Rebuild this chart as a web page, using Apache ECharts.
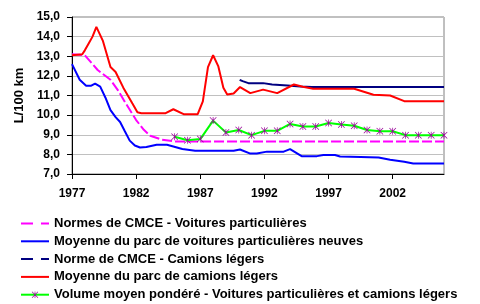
<!DOCTYPE html>
<html lang="fr">
<head>
<meta charset="UTF-8">
<title>Consommation de carburant</title>
<style>
  html, body { margin: 0; padding: 0; background: #fff; }
  #chart { width: 480px; height: 304px; }
</style>
</head>
<body>
<div id="chart"></div>
<script src="https://cdn.jsdelivr.net/npm/echarts@6/dist/echarts.min.js"></script>
<script>
// valeurs : [année, L/100 km]
var normesVoitures = [
  [1977, 13.1], [1978, 13.05], [1979, 12.3], [1980, 11.8], [1980.6, 11.25],
  [1981.1, 10.7], [1982, 9.75], [1982.6, 9.25], [1983.1, 8.95], [1984, 8.75],
  [1985, 8.66], [2006, 8.66]
];
var moyenneVoitures = [
  [1977, 12.6], [1977.6, 11.8], [1978.1, 11.5], [1978.5, 11.5], [1978.8, 11.6],
  [1979.2, 11.45], [1979.6, 10.9], [1980, 10.25], [1980.4, 9.9], [1980.75, 9.65],
  [1981.1, 9.2], [1981.5, 8.7], [1981.9, 8.45], [1982.3, 8.35], [1982.8, 8.38],
  [1983.6, 8.49], [1984.4, 8.49], [1984.9, 8.4], [1985.6, 8.27], [1986.6, 8.18],
  [1989.6, 8.18], [1990.1, 8.25], [1990.9, 8.04], [1991.4, 8.04], [1992.2, 8.14],
  [1993.5, 8.14], [1994, 8.27], [1994.9, 7.91], [1996.1, 7.91], [1996.6, 7.97],
  [1997.5, 7.97], [1997.9, 7.89], [1999.5, 7.87], [2000.9, 7.84], [2001.8, 7.73],
  [2002.9, 7.62], [2003.6, 7.53], [2006, 7.53]
];
var normeCamions = [
  [1990.07, 11.8], [1990.3, 11.73], [1990.75, 11.63], [1991.9, 11.63],
  [1992.6, 11.56], [1993.8, 11.51], [1994.8, 11.46], [1995.7, 11.43], [2006, 11.43]
];
var moyenneCamions = [
  [1977, 13.05], [1977.8, 13.1], [1978, 13.3], [1978.3, 13.65], [1978.6, 14.0],
  [1978.9, 14.5], [1979.4, 13.8], [1980, 12.45], [1980.4, 12.2], [1981, 11.4],
  [1981.7, 10.6], [1982.1, 10.15], [1982.4, 10.1], [1984.3, 10.1], [1984.9, 10.3],
  [1985.7, 10.05], [1986.8, 10.05], [1987.2, 10.7], [1987.6, 12.45], [1988, 13.05],
  [1988.4, 12.5], [1988.8, 11.4], [1989.1, 11.05], [1989.6, 11.1], [1990.1, 11.43],
  [1990.9, 11.12], [1991.9, 11.3], [1993, 11.12], [1994.3, 11.56], [1995, 11.45],
  [1995.8, 11.34], [1999, 11.34], [2000.5, 11.04], [2001.8, 11.0], [2002.9, 10.71],
  [2006, 10.71]
];
var anneesPondere = [1985, 1986, 1987, 1988, 1989, 1990, 1991, 1992, 1993, 1994, 1995,
  1996, 1997, 1998, 1999, 2000, 2001, 2002, 2003, 2004, 2005, 2006];
var volumePondere = [8.9, 8.72, 8.78, 9.72, 9.12, 9.24, 8.98, 9.2, 9.2, 9.55, 9.42,
  9.42, 9.6, 9.52, 9.46, 9.24, 9.18, 9.18, 8.98, 8.98, 8.98, 8.98];
var anneesEtiquettes = [1977, 1982, 1987, 1992, 1997, 2002];

var noms = [
  'Normes de CMCE - Voitures particulières',
  'Moyenne du parc de voitures particulières neuves',
  'Norme de CMCE - Camions légers',
  'Moyenne du parc de camions légers',
  'Volume moyen pondéré - Voitures particulières et camions légers'
];

var police = "'Liberation Sans', Arial, sans-serif";
// astérisque (marqueur Excel)
var asterisque = 'path://M4.5,0h1v10h-1z M0.7,0L10,9.3L9.3,10L0,0.7z M9.3,0L10,0.7L0.7,10L0,9.3z';
var sansMarque = { color: 'rgba(0,0,0,0)', borderWidth: 0 };

var chart = echarts.init(document.getElementById('chart'));
chart.setOption({
  animation: false,
  textStyle: { fontFamily: police },
  grid: {
    left: 72, right: 36, top: 17, bottom: 130,
    show: true, borderColor: '#808080', borderWidth: 1
  },
  legend: {
    orient: 'vertical',
    left: 20, top: 217,
    padding: 0,
    itemWidth: 28, itemHeight: 8, itemGap: 4.8,
    selectedMode: false,
    textStyle: { fontFamily: police, fontWeight: 'bold', fontSize: 13, color: '#000' },
    data: [
      { name: noms[0], itemStyle: sansMarque, lineStyle: { type: [12, 8] } },
      { name: noms[1], itemStyle: sansMarque },
      { name: noms[2], itemStyle: sansMarque, lineStyle: { type: [12, 8] } },
      { name: noms[3], itemStyle: sansMarque },
      { name: noms[4] }
    ]
  },
  xAxis: {
    type: 'value',
    min: 1977, max: 2006,
    splitLine: { show: false },
    axisLine: { lineStyle: { color: '#000', width: 1 } },
    axisTick: { show: true, length: 5, customValues: anneesEtiquettes, lineStyle: { color: '#000' } },
    axisLabel: {
      customValues: anneesEtiquettes,
      margin: 14,
      fontFamily: police, fontWeight: 'bold', fontSize: 12, color: '#000',
      formatter: function (v) { return String(v); }
    }
  },
  yAxis: {
    type: 'value',
    min: 7, max: 15, interval: 1,
    name: 'L/100 km',
    nameLocation: 'middle',
    nameGap: 40,
    nameTextStyle: { fontFamily: police, fontWeight: 'bold', fontSize: 13, color: '#000' },
    axisLine: { show: true, lineStyle: { color: '#000', width: 1 } },
    axisTick: { show: true, length: 5, lineStyle: { color: '#000' } },
    splitLine: { lineStyle: { color: '#c0c0c0', width: 1 } },
    axisLabel: {
      margin: 12,
      fontFamily: police, fontWeight: 'bold', fontSize: 12, color: '#000',
      formatter: function (v) { return v.toFixed(1).replace('.', ','); }
    }
  },
  series: [
    {
      name: noms[0], type: 'line', symbol: 'none',
      data: normesVoitures,
      lineStyle: { color: '#ff00ff', width: 2, type: [10, 3] },
      itemStyle: { color: '#ff00ff' }
    },
    {
      name: noms[1], type: 'line', symbol: 'none',
      data: moyenneVoitures,
      lineStyle: { color: '#0000ff', width: 2 },
      itemStyle: { color: '#0000ff' }
    },
    {
      name: noms[2], type: 'line', symbol: 'none',
      data: normeCamions,
      lineStyle: { color: '#000080', width: 2 },
      itemStyle: { color: '#000080' }
    },
    {
      name: noms[3], type: 'line', symbol: 'none',
      data: moyenneCamions,
      lineStyle: { color: '#ff0000', width: 2 },
      itemStyle: { color: '#ff0000' }
    },
    {
      name: noms[4], type: 'line',
      symbol: asterisque, symbolSize: 7,
      data: anneesPondere.map(function (a, i) { return [a, volumePondere[i]]; }),
      lineStyle: { color: '#00ff00', width: 2 },
      itemStyle: { color: '#990099' }
    }
  ]
});
</script>
</body>
</html>
